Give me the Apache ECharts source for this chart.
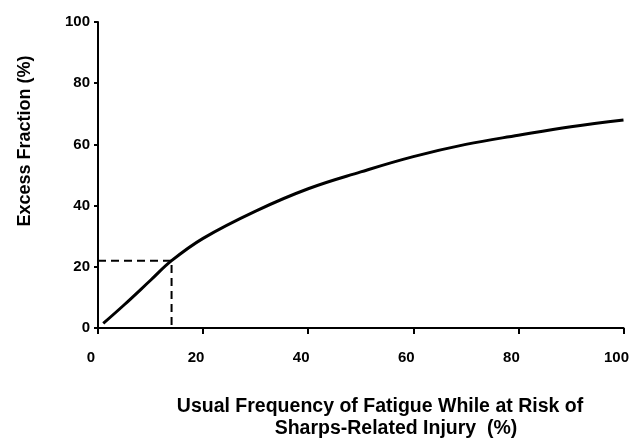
<!DOCTYPE html>
<html>
<head>
<meta charset="utf-8">
<style>
  html, body { margin: 0; padding: 0; background: #fff; }
  #chart { width: 632px; height: 440px; }
</style>
<script src="https://cdn.jsdelivr.net/npm/echarts@6/dist/echarts.min.js"></script>
</head>
<body>
<div id="chart"></div>
<script>
// values
let freqValues = [1, 5, 10, 14, 20, 30, 40, 50, 60, 70, 80, 90, 100];
let excessValues = [1.5, 7.6, 15.6, 22, 29.3, 38.2, 45.5, 51, 56, 60, 63, 65.8, 68];
let guideX = [0, 14, 14];
let guideY = [22, 22, 0];
let tickValues = [0, 20, 40, 60, 80, 100];

let xTitle = ['Usual Frequency of Fatigue While at Risk of', 'Sharps-Related Injury  (%)'];
let yTitle = 'Excess Fraction (%)';

let font = 'Liberation Sans, Arial, sans-serif';

let dom = document.getElementById('chart');
let myChart = echarts.init(dom);

let curveData = freqValues.map(function (x, i) { return [x, excessValues[i]]; });
let guideData = guideX.map(function (x, i) { return [x, guideY[i]]; });

let option = {
    animation: false,
    backgroundColor: '#fff',
    grid: { left: 98, right: 6, top: 22, bottom: 112 },
    xAxis: {
        type: 'value',
        min: tickValues[0],
        max: tickValues[tickValues.length - 1],
        interval: 20,
        axisLine: { show: true, lineStyle: { color: '#000', width: 2 } },
        axisTick: { show: true, length: 6, lineStyle: { color: '#000', width: 2 } },
        splitLine: { show: false },
        axisLabel: {
            color: '#000', fontSize: 15, fontWeight: 'bold', fontFamily: font,
            margin: 22, padding: [0, 14, 0, 0]
        }
    },
    yAxis: {
        type: 'value',
        min: 0,
        max: 100,
        interval: 20,
        axisLine: { show: true, lineStyle: { color: '#000', width: 2 } },
        axisTick: { show: true, length: 4, lineStyle: { color: '#000', width: 2 } },
        splitLine: { show: false },
        axisLabel: {
            color: '#000', fontSize: 15, fontWeight: 'bold', fontFamily: font,
            margin: 8
        }
    },
    graphic: [
        {
            type: 'text', x: 380, y: 407,
            style: { text: xTitle[0], fill: '#000', font: 'bold 19.5px ' + font, textAlign: 'center', textVerticalAlign: 'middle' }
        },
        {
            type: 'text', x: 396, y: 429,
            style: { text: xTitle[1], fill: '#000', font: 'bold 19.5px ' + font, textAlign: 'center', textVerticalAlign: 'middle' }
        },
        {
            type: 'text', x: 25, y: 141, rotation: Math.PI / 2,
            style: { text: yTitle, fill: '#000', font: 'bold 18px ' + font, textAlign: 'center', textVerticalAlign: 'middle' }
        }
    ],
    series: [
        {
            type: 'line',
            data: curveData,
            smooth: 0.4,
            symbol: 'none',
            lineStyle: { color: '#000', width: 3 }
        },
        {
            type: 'line',
            data: guideData,
            symbol: 'none',
            lineStyle: { color: '#000', width: 2, type: [8, 5] }
        }
    ]
};

myChart.setOption(option, true);
window.addEventListener('resize', function () {
    myChart.resize();
});
</script>
</body>
</html>
